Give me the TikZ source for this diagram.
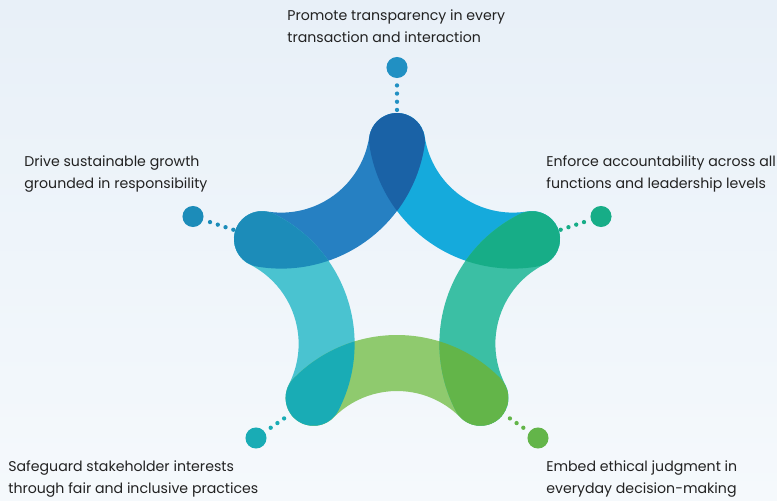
\documentclass[tikz,border=0pt]{standalone}
\usepackage{fontspec}
\setmainfont{Poppins}
\usepackage{xcolor}
\usetikzlibrary{positioning}

\definecolor{bandUL}{HTML}{2680C2}
\definecolor{bandUR}{HTML}{15AADC}
\definecolor{bandLR}{HTML}{3BBFA4}
\definecolor{bandB}{HTML}{8FCA6E}
\definecolor{bandLL}{HTML}{4AC3D0}
\definecolor{blobT}{HTML}{1A62A6}
\definecolor{blobR}{HTML}{17AD87}
\definecolor{blobBR}{HTML}{63B549}
\definecolor{blobBL}{HTML}{19ACB5}
\definecolor{blobL}{HTML}{1C8CB9}
\definecolor{dotT}{HTML}{2190C3}
\definecolor{txt}{HTML}{222222}
\definecolor{bgtop}{HTML}{E8F0F8}
\definecolor{bgbot}{HTML}{F5F9FC}

\tikzstyle{label} = [anchor=north west, inner sep=0pt, align=left, text=txt, font=\fontsize{8.05}{12.5}\selectfont]
\tikzstyle{marker} = [circle, inner sep=0pt, minimum size=12pt]
\tikzstyle{leader} = [line width=2.45pt, line cap=round, dash pattern=on 0pt off 4.65pt, shorten <=4pt]

% one thick arc with round ends, #1 = direction of its centre seen from the middle
\newcommand{\bandpath}[1]{([shift={(#1:197)}]#1+134.55:145)
  arc[start angle=#1+134.55, end angle=#1+225.45, radius=145]
  arc[start angle=#1+225.45, end angle=#1+405.45, radius=28]
  arc[start angle=#1+225.45, end angle=#1+134.55, radius=89]
  arc[start angle=#1+314.55, end angle=#1+494.55, radius=28] -- cycle}

\begin{document}
\begin{tikzpicture}[x=0.02cm, y=0.02cm]
    \fill[top color=bgtop, bottom color=bgbot] (0,0) rectangle (777,-500);
    \useasboundingbox (0,0) rectangle (777,-500);

    \begin{scope}[shift={(397,-283)}]
        \fill[bandUR] \bandpath{54};
        \fill[bandUL] \bandpath{126};
        \fill[bandLL] \bandpath{198};
        \fill[bandB] \bandpath{270};
        \fill[bandLR] \bandpath{342};

        % where two arcs meet
        \begin{scope} \clip \bandpath{54}; \fill[blobT] \bandpath{126}; \end{scope}
        \begin{scope} \clip \bandpath{126}; \fill[blobL] \bandpath{198}; \end{scope}
        \begin{scope} \clip \bandpath{198}; \fill[blobBL] \bandpath{270}; \end{scope}
        \begin{scope} \clip \bandpath{270}; \fill[blobBR] \bandpath{342}; \end{scope}
        \begin{scope} \clip \bandpath{342}; \fill[blobR] \bandpath{54}; \end{scope}

        \coordinate (vT) at (90:142);
        \coordinate (vL) at (162:142);
        \coordinate (vBL) at (234:142);
        \coordinate (vBR) at (306:142);
        \coordinate (vR) at (18:142);
    \end{scope}

    \node (dT) [marker, fill=dotT] at (397,-67.5) {};
    \node (dL) [marker, fill=blobL] at (193,-216.5) {};
    \node (dR) [marker, fill=blobR] at (601,-216.5) {};
    \node (dBL) [marker, fill=blobBL] at (256,-438) {};
    \node (dBR) [marker, fill=blobBR] at (538,-438) {};

    \draw [leader, draw=dotT, shorten >=17.3pt] (dT) -- (vT);
    \draw [leader, draw=blobL, shorten >=16.8pt] (dL) -- (vL);
    \draw [leader, draw=blobR, shorten >=16.8pt] (dR) -- (vR);
    \draw [leader, draw=blobBL, shorten >=19.9pt] (dBL) -- (vBL);
    \draw [leader, draw=blobBR, shorten >=19.9pt] (dBR) -- (vBR);

    \node (tT) [label] at (287,-9.3) {Promote transparency in every\\transaction and interaction};
    \node (tL) [label] at (24,-155) {Drive sustainable growth\\grounded in responsibility};
    \node (tR) [label] at (546,-155) {Enforce accountability across all\\functions and leadership levels};
    \node (tBL) [label] at (8,-460) {Safeguard stakeholder interests\\through fair and inclusive practices};
    \node (tBR) [label] at (546,-460) {Embed ethical judgment in\\everyday decision-making};
\end{tikzpicture}
\end{document}
